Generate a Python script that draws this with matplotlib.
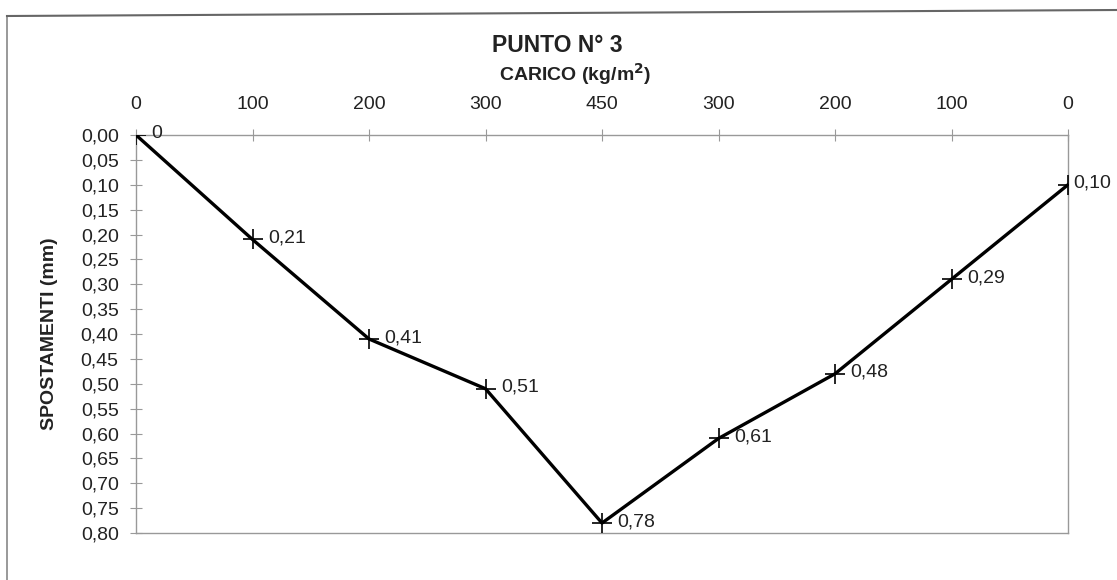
import matplotlib.pyplot as plt
from matplotlib.lines import Line2D

plt.rcParams['font.family'] = ['Liberation Sans', 'DejaVu Sans']

# load steps (kg/m2) and measured displacements (mm)
carico = ["0", "100", "200", "300", "450", "300", "200", "100", "0"]
spostamenti = [0.00, 0.21, 0.41, 0.51, 0.78, 0.61, 0.48, 0.29, 0.10]
etichette = ["0", "0,21", "0,41", "0,51", "0,78", "0,61", "0,48", "0,29", "0,10"]
y_ticks = [i * 0.05 for i in range(17)]

fig = plt.figure(figsize=(11.17, 5.80), dpi=100)
ax = fig.add_axes([136 / 1117, 1 - 533 / 580, (1068 - 136) / 1117, (533 - 135) / 580])

x = list(range(len(carico)))
ax.plot(x, spostamenti, color='black', lw=2.4, marker='+', ms=14, mew=1.2, zorder=3)
for xi, yi, lab in zip(x, spostamenti, etichette):
    # last label sits against the right edge, so it is pulled in closer
    dx = 4 if xi == len(carico) - 1 else 11
    ax.annotate(lab, (xi, yi), xytext=(dx, 1), textcoords='offset points',
                va='center', ha='left', fontsize=14, color='#222222')

ax.set_xlim(0, len(carico) - 1)
ax.set_ylim(0.80, 0.00)
ax.xaxis.tick_top()
ax.set_xticks(x)
ax.set_xticklabels(carico)
ax.set_yticks(y_ticks)
ax.set_yticklabels([f"{v:.2f}".replace(".", ",") for v in y_ticks])
ax.tick_params(axis='both', direction='inout', length=9, width=0.8, color='#999999',
               labelsize=14, labelcolor='#222222')
ax.tick_params(axis='x', pad=11)
ax.tick_params(axis='y', pad=8)
for s in ax.spines.values():
    s.set_color('#999999')
    s.set_linewidth(1.0)

ax.set_ylabel("SPOSTAMENTI (mm)", fontsize=14, fontweight='bold', color='#222222', labelpad=16)

fig.text(557 / 1117, 1 - 45 / 580, "PUNTO N° 3", ha='center', va='center',
         fontsize=16.5, fontweight='bold', color='#222222')
fig.text(575 / 1117, 1 - 74 / 580, "CARICO (kg/m$^\\mathbf{2}$)", ha='center', va='center',
         fontsize=14, fontweight='bold', color='#222222')

# outer chart frame (left and top edges visible in the scan)
fig.add_artist(Line2D([7 / 1117, 7 / 1117], [0, 1 - 16 / 580], transform=fig.transFigure,
                      color='#888888', lw=1.2))
fig.add_artist(Line2D([7 / 1117, 1], [1 - 16 / 580, 1 - 10 / 580], transform=fig.transFigure,
                      color='#666666', lw=1.5))

fig.savefig("out.png", dpi=100)
